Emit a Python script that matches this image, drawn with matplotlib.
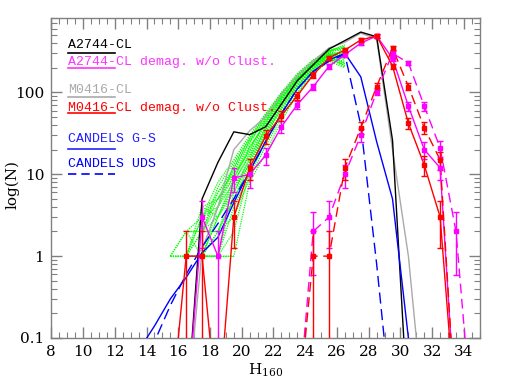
import numpy as np
import matplotlib
matplotlib.use("Agg")
import matplotlib.pyplot as plt
from matplotlib.ticker import MultipleLocator, FixedLocator, LogLocator, NullFormatter

plt.rcParams['font.family'] = ['DejaVu Serif']
plt.rcParams['mathtext.fontset'] = 'dejavuserif'

# ---------------- data ----------------
black_H = [16.5, 17.5, 18.5, 19.5, 20.5, 21.5, 22.5, 23.5, 24.5, 25.5, 26.5, 27.5, 28.5, 29.5, 30.5]
black_N = [0.01, 5, 14, 33, 30.5, 38, 72, 139, 217, 339, 430, 546, 478, 26, 0.01]

gray_H = [16.5, 17.5, 18.5, 19.5, 20.5, 21.5, 22.5, 23.5, 24.5, 25.5, 26.5, 27.5, 28.5, 29.5, 30.5, 31.5]
gray_N = [0.01, 1.2, 4, 20, 34, 50, 95, 160, 240, 350, 410, 530, 450, 20, 1, 0.01]

gs_H = [13.5, 14.5, 15.5, 16.5, 17.5, 18.5, 19.5, 20.5, 21.5, 22.5, 23.5, 24.5, 25.5, 26.5, 27.5, 28.5, 29.5, 30.5, 31.5]
gs_N = [0.07, 0.14, 0.3, 0.55, 1.1, 1.7, 4.5, 11, 25, 55, 110, 180, 250, 300, 155, 25, 5, 0.1, 0.01]

uds_H = [13.5, 14.5, 15.5, 16.5, 17.5, 18.5, 19.5, 20.5, 21.5, 22.5, 23.5, 24.5, 25.5, 26.5, 27.5, 28.5, 29.5]
uds_N = [0.01, 0.09, 0.25, 0.6, 1.3, 2.5, 5, 11, 25, 55, 110, 180, 240, 290, 40, 0.8, 0.01]

mag_H = [16.5, 17.5, 18.5, 19.5, 20.5, 21.5, 22.5, 23.5, 24.5, 25.5, 26.5, 27.5, 28.5, 29.5, 30.5, 31.5, 32.5, 33.5]
mag_N = [0.01, 3, 1, 9, 10, 17, 38, 71, 117, 209, 289, 400, 490, 260, 68, 20, 12, 0.01]

red_H = [15.5, 16.5, 17.5, 18.5, 19.5, 20.5, 21.5, 22.5, 23.5, 24.5, 25.5, 26.5, 27.5, 28.5, 29.5, 30.5, 31.5, 32.5, 33.5]
red_N = [0.01, 1, 1, 0.01, 3, 12, 29, 52, 91, 164, 265, 330, 437, 490, 210, 42, 13, 3, 0.01]

magd_H = [23.5, 24.5, 25.5, 26.5, 27.5, 28.5, 29.5, 30.5, 31.5, 32.5, 33.5, 34.5]
magd_N = [0.01, 2, 3, 10, 30, 102, 300, 230, 68, 21, 2, 0.01]

redd_H = [23.5, 24.5, 25.5, 26.5, 27.5, 28.5, 29.5, 30.5, 31.5, 32.5, 33.5]
redd_N = [0.01, 1, 1, 12, 37, 118, 347, 118, 37, 15, 0.01]

# green Monte-Carlo realisations (H = 15.5 ... 26.5)
green_H = [15.5, 16.5, 17.5, 18.5, 19.5, 20.5, 21.5, 22.5, 23.5, 24.5, 25.5, 26.5]
nan = np.nan
green_runs = [
    [1, 2, 3, 6, 12, 25, 50, 95, 160, 240, 320, 380],
    [nan, 1, 4, 5, 9, 20, 45, 90, 150, 230, 300, 260],
    [nan, nan, 1, 3, 7, 15, 35, 75, 140, 220, 290, 300],
    [nan, 1, 1, 4, 10, 22, 40, 80, 150, 210, 280, 330],
    [nan, nan, 2, 2, 5, 12, 28, 65, 120, 200, 270, 210],
    [nan, nan, nan, 1, 4, 10, 25, 55, 110, 190, 260, 240],
    [1, 1, 3, 8, 15, 30, 55, 100, 170, 250, 330, 350],
    [nan, 2, 2, 3, 6, 14, 32, 70, 130, 215, 300, 280],
    [nan, nan, 1, 2, 3, 9, 22, 50, 100, 180, 250, 220],
    [nan, nan, 1, 1, 1, 8, 18, 45, 95, 170, 240, 200],
    [nan, 1, 2, 5, 11, 24, 48, 92, 165, 245, 320, 330],
    [nan, nan, 4, 3, 8, 18, 38, 85, 145, 225, 310, 290],
    [1, 1, 1, 1, 6, 16, 36, 78, 135, 205, 285, 250],
    [nan, 1, 3, 4, 13, 28, 52, 98, 158, 235, 315, 360],
    [nan, nan, 2, 6, 10, 19, 42, 82, 142, 228, 295, 270],
    [nan, 1, 2, 2, 7, 13, 30, 68, 125, 198, 275, 230],
    [nan, nan, 3, 5, 12, 26, 46, 88, 155, 238, 325, 370],
    [nan, nan, 1, 1, 2, 11, 24, 58, 115, 188, 262, 205],
    [nan, 2, 1, 3, 9, 21, 43, 86, 148, 222, 298, 310],
    [nan, nan, 2, 4, 8, 17, 34, 72, 132, 212, 288, 265],
    [1, 2, 2, 7, 14, 27, 53, 96, 162, 244, 318, 340],
    [nan, nan, 1, 2, 5, 14, 31, 62, 118, 195, 268, 225],
]

legend_labels = ["A2744-CL", "A2744-CL demag. w/o Clust.", "M0416-CL",
                 "M0416-CL demag. w/o Clust.", "CANDELS G-S", "CANDELS UDS"]
xticks = [8, 10, 12, 14, 16, 18, 20, 22, 24, 26, 28, 30, 32, 34]
yticks = [0.1, 1, 10, 100]
ytick_labels = ["0.1", "1", "10", "100"]

# ---------------- plot ----------------
fig = plt.figure(figsize=(5.1, 3.82), dpi=100)
ax = fig.add_axes([0.1006, 0.1152, 0.8402, 0.8364])
ax.set_yscale('log')
ax.set_xlim(8, 35)
ax.set_ylim(0.1, 800)

GREEN = '#00ff00'
for run in green_runs:
    ax.plot(green_H, run, color=GREEN, lw=0.9, ls=(0, (1, 0.9)), zorder=1)
# flat N=1 dotted line of realisations
ax.plot([15.5, 19.5], [1, 1], color=GREEN, lw=0.9, ls=(0, (1, 0.9)), zorder=1)

ax.plot(black_H, black_N, color='black', lw=1.0, zorder=3)
ax.plot(gray_H, gray_N, color='#aaaaaa', lw=1.0, zorder=2)
ax.plot(gs_H, gs_N, color='#0000ff', lw=1.0, zorder=3)
ax.plot(uds_H, uds_N, color='#0000ff', lw=1.0, ls=(0, (8, 4)), zorder=3)


def err_series(H, N, color, ls):
    H = np.asarray(H, float)
    N = np.asarray(N, float)
    ax.plot(H, N, color=color, lw=1.0, ls=ls, zorder=4)
    good = N >= 1
    e = np.sqrt(N[good])
    lo = np.minimum(e, N[good] - 1e-4)
    ax.errorbar(H[good], N[good], yerr=[lo, e], fmt='s', ms=2.5, color=color,
                ecolor=color, elinewidth=1.0, capsize=2.5, capthick=1.0, zorder=5)


err_series(mag_H, mag_N, '#ff00ff', '-')
err_series(magd_H, magd_N, '#ff00ff', (0, (7, 4)))
err_series(red_H, red_N, '#ff0000', '-')
err_series(redd_H, redd_N, '#ff0000', (0, (7, 4)))

# legend (text + sample line underneath)
leg_colors = ['black', '#ff33ff', '#aaaaaa', '#ff0000', '#2222ff', '#0000ff']
leg_text_y = [0.9067, 0.8554, 0.7659, 0.7114, 0.6125, 0.5362]
leg_line_y = [0.8911, 0.8460, 0.7553, 0.7033, 0.5906, 0.5124]
leg_ls = ['-', '-', '-', '-', '-', (0, (5, 3))]
for lab, c, ty, lyy, ls in zip(legend_labels, leg_colors, leg_text_y, leg_line_y, leg_ls):
    ax.text(0.0397, ty, lab, transform=ax.transAxes, color=c, fontsize=9.5,
            family='Liberation Mono', va='baseline', ha='left', zorder=6)
    ax.plot([0.0397, 0.1486], [lyy, lyy], transform=ax.transAxes, color=c,
            lw=1.2, ls=ls, zorder=6)

# axes styling
for s in ax.spines.values():
    s.set_color('#808080')
    s.set_linewidth(1.0)
ax.xaxis.set_major_locator(FixedLocator(xticks))
ax.xaxis.set_minor_locator(MultipleLocator(0.5))
ax.set_xticklabels([str(t) for t in xticks])
ax.yaxis.set_major_locator(FixedLocator(yticks))
ax.set_yticklabels(ytick_labels)
ax.yaxis.set_minor_locator(LogLocator(base=10, subs=np.arange(2, 10)))
ax.yaxis.set_minor_formatter(NullFormatter())
ax.tick_params(which='both', direction='in', top=True, right=True, color='#808080')
ax.tick_params(which='major', length=8, width=1.0, labelsize=11, pad=5)
ax.tick_params(which='minor', length=4, width=0.8)

ax.set_xlabel(r'H$_{160}$', fontsize=11, labelpad=2)
ax.set_ylabel('log(N)', fontsize=11)
ax.yaxis.set_label_coords(-0.075, 0.479)

fig.savefig('out.png', dpi=100)
